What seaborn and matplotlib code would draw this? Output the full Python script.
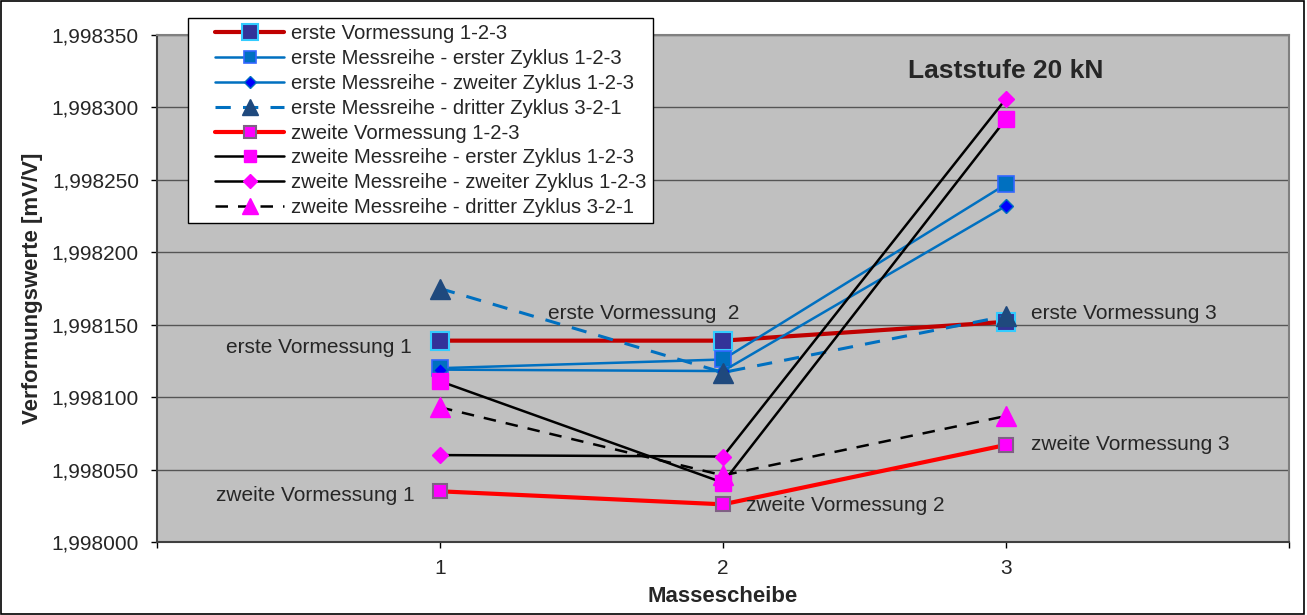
import matplotlib
matplotlib.use("Agg")
import matplotlib.pyplot as plt
import seaborn as sns
import pandas as pd
from matplotlib.ticker import FuncFormatter, MultipleLocator
from matplotlib.lines import Line2D
from matplotlib.legend_handler import HandlerLine2D

sns.set_theme(style="white")
plt.rcParams['font.family'] = ['Liberation Sans', 'DejaVu Sans']

masse = [1, 2, 3]
erste_vormessung = [1.998139, 1.998139, 1.998152]
erste_zyklus1 = [1.998120, 1.998126, 1.998247]
erste_zyklus2 = [1.998119, 1.998118, 1.998232]
erste_zyklus3 = [1.998175, 1.998117, 1.998156]
zweite_vormessung = [1.998035, 1.998026, 1.998067]
zweite_zyklus1 = [1.998111, 1.998041, 1.998292]
zweite_zyklus2 = [1.998060, 1.998059, 1.998306]
zweite_zyklus3 = [1.998093, 1.998046, 1.998087]

labels = [
    "erste Vormessung 1-2-3",
    "erste Messreihe - erster Zyklus 1-2-3",
    "erste Messreihe - zweiter Zyklus 1-2-3",
    "erste Messreihe - dritter Zyklus 3-2-1",
    "zweite Vormessung 1-2-3",
    "zweite Messreihe - erster Zyklus 1-2-3",
    "zweite Messreihe - zweiter Zyklus 1-2-3",
    "zweite Messreihe - dritter Zyklus 3-2-1",
]
values = [erste_vormessung, erste_zyklus1, erste_zyklus2, erste_zyklus3,
          zweite_vormessung, zweite_zyklus1, zweite_zyklus2, zweite_zyklus3]

styles = [
    dict(color="#C00000", lw=3, ls="-", marker="s", ms=13, mfc="#333399", mec="#33CCFF", mew=1.5),
    dict(color="#0070C0", lw=1.8, ls="-", marker="s", ms=11, mfc="#0070C0", mec="#3366FF", mew=1.2),
    dict(color="#0070C0", lw=1.8, ls="-", marker="D", ms=7, mfc="#0000FF", mec="#0070C0", mew=1.0),
    dict(color="#0070C0", lw=2.2, ls=(0, (5, 4)), marker="^", ms=14, mfc="#1F497D", mec="#1F497D", mew=1.0),
    dict(color="#FF0000", lw=3, ls="-", marker="s", ms=10, mfc="#FF00FF", mec="#7F6084", mew=1.5),
    dict(color="black", lw=1.8, ls="-", marker="s", ms=11, mfc="#FF00FF", mec="#FF00FF", mew=1.0),
    dict(color="black", lw=1.8, ls="-", marker="D", ms=8, mfc="#FF00FF", mec="#FF00FF", mew=1.0),
    dict(color="black", lw=1.8, ls=(0, (5, 4)), marker="^", ms=14, mfc="#FF00FF", mec="#FF00FF", mew=1.0),
]


class ShiftedHandler(HandlerLine2D):
    def __init__(self, offset, **kw):
        super().__init__(**kw)
        self.offset = offset

    def create_artists(self, legend, orig_handle, xdescent, ydescent, width, height, fontsize, trans):
        return super().create_artists(legend, orig_handle, xdescent - self.offset, ydescent,
                                      width - self.offset, height, fontsize, trans)


fig = plt.figure(figsize=(13.07, 6.15), dpi=100)
ax = fig.add_axes([157/1307, 1-542/615, (1289-157)/1307, (542-35)/615])
ax.set_facecolor("#C0C0C0")

for lab, vals, st in zip(labels, values, styles):
    df = pd.DataFrame({"x": masse, "y": vals})
    sns.lineplot(data=df, x="x", y="y", ax=ax, label=lab, color=st["color"],
                 linewidth=st["lw"], linestyle=st["ls"], marker=st["marker"],
                 markersize=st["ms"], markerfacecolor=st["mfc"],
                 markeredgecolor=st["mec"], markeredgewidth=st["mew"])

ax.set_xlim(0, 4)
ax.set_ylim(1.998000, 1.998350)
ax.yaxis.set_major_locator(MultipleLocator(0.00005))
ax.yaxis.set_major_formatter(FuncFormatter(lambda v, p: f"{v:.6f}".replace(".", ",")))
ax.set_xticks([0, 1, 2, 3, 4])
ax.set_xticklabels(["", "1", "2", "3", ""])
ax.grid(axis="y", color="#555555", linewidth=1.0)
ax.grid(axis="x", visible=False)
ax.set_axisbelow(True)
ax.tick_params(axis="both", direction="out", length=4, width=1, color="black",
               labelsize=15, left=True, bottom=True)
ax.tick_params(axis="y", pad=9)
ax.tick_params(axis="x", pad=8)
for s in ["left", "bottom"]:
    ax.spines[s].set_color("#404040")
    ax.spines[s].set_linewidth(1.5)
for s in ["top", "right"]:
    ax.spines[s].set_color("#808080")
    ax.spines[s].set_linewidth(1.5)

ax.set_xlabel("Massescheibe", fontsize=16, fontweight="bold", labelpad=6)
ax.set_ylabel("Verformungswerte [mV/V]", fontsize=16, fontweight="bold", labelpad=6)

ax.text(3.0, 1.998325, "Laststufe 20 kN", fontsize=19, fontweight="bold", ha="center", va="center")

fs = 15
ax.text(0.9, 1.998134, "erste Vormessung 1", fontsize=fs, ha="right", va="center")
ax.text(1.72, 1.998158, "erste Vormessung  2", fontsize=fs, ha="center", va="center")
ax.text(3.09, 1.998158, "erste Vormessung 3", fontsize=fs, ha="left", va="center")
ax.text(0.91, 1.998032, "zweite Vormessung 1", fontsize=fs, ha="right", va="center")
ax.text(2.08, 1.998025, "zweite Vormessung 2", fontsize=fs, ha="left", va="center")
ax.text(3.09, 1.998067, "zweite Vormessung 3", fontsize=fs, ha="left", va="center")

leg = ax.legend(loc="upper left", bbox_to_anchor=(188/1307, 1-18/615), bbox_transform=fig.transFigure,
                fontsize=14.6, frameon=True, fancybox=False, framealpha=1, edgecolor="black",
                handlelength=4.44, borderpad=0.3, labelspacing=0.29, handletextpad=0.35, borderaxespad=0,
                handler_map={Line2D: ShiftedHandler(15.0)})
leg.get_frame().set_linewidth(1.0)
for h in leg.legend_handles:
    try:
        h.set_markersize(h.get_markersize() * 0.85)
    except Exception:
        pass

border = plt.Rectangle((0.001, 0.002), 0.997, 0.996, transform=fig.transFigure,
                       fill=False, edgecolor="black", linewidth=1.2)
fig.add_artist(border)

fig.savefig("out.png", dpi=100)
